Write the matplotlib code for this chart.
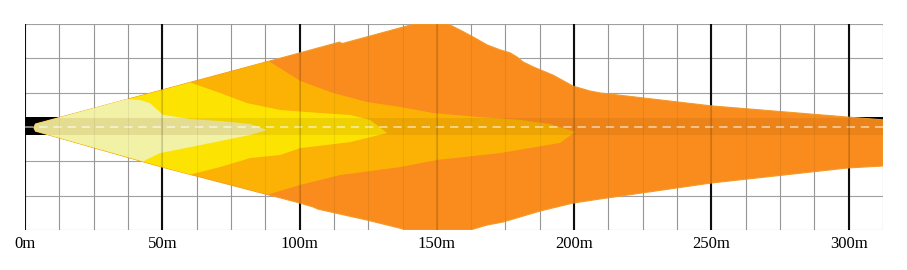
import numpy as np
import matplotlib
matplotlib.use('Agg')
from matplotlib import pyplot as plt

# Distance ticks [m]
tick_pos = [0, 50, 100, 150, 200, 250, 300]
tick_labels = ['0m', '50m', '100m', '150m', '200m', '250m', '300m']

# Beam tip (closest point to the lamp)
apex_x = [3.2]
apex_y = [-0.2]

# Outer beam contour, upper side (x [m], y [m])
edge_top_x = [3.8, 50.0, 100.2, 114.5, 115.6, 141.8, 154.1, 158.5, 163.2, 168.3, 173.0,
              176.7, 179.2, 181.4, 185.1, 192.3, 199.6, 205.8, 209.5, 249.9, 299.8, 312.5]
edge_top_y = [1.1, 13.5, 27.0, 30.9, 30.4, 37.5, 37.5, 35.3, 32.8, 29.9, 28.1,
              27.0, 25.5, 23.7, 21.9, 18.9, 14.9, 13.1, 12.4, 7.7, 3.6, 2.6]

# Outer beam contour, lower side
edge_bot_x = [3.8, 50.0, 100.2, 104.9, 106.7, 124.6, 139.2, 162.1, 168.3, 174.1,
              187.6, 199.6, 209.5, 249.9, 299.8, 312.5]
edge_bot_y = [-1.5, -14.6, -27.7, -29.1, -29.9, -33.9, -37.5, -37.5, -35.7, -34.6,
              -30.6, -27.7, -26.2, -20.4, -14.9, -14.2]

# Inner zone limits (from upper edge, round the tip, back to lower edge)
amber_x = [88.8, 100.2, 112.2, 124.6, 136.6, 148.6, 165.8, 180.3, 191.3, 200.4,
           194.9, 173.0, 150.1, 136.6, 114.8, 100.2, 88.5]
amber_y = [24.0, 16.8, 12.4, 9.1, 7.3, 5.1, 3.6, 2.6, 1.1, -1.8,
           -5.8, -9.5, -12.0, -14.6, -17.5, -21.1, -24.6]

yellow_x = [60.2, 71.0, 80.9, 92.9, 107.5, 118.4, 125.7, 131.9, 118.4, 100.2,
            92.9, 82.0, 71.0, 60.2]
yellow_y = [16.2, 12.4, 8.7, 6.2, 5.1, 4.4, 2.6, -2.2, -5.5, -7.7,
            -10.2, -11.3, -14.6, -17.3]

pale_x = [37.2, 41.9, 45.5, 50.3, 60.1, 71.0, 82.0, 88.2, 82.0, 63.8, 49.2, 43.0]
pale_y = [10.2, 9.8, 8.7, 4.4, 2.9, 2.2, 1.1, -1.1, -2.9, -6.6, -9.5, -12.5]

# Central strip
band_lo, band_hi = -2.9, 3.3
bar_lo, bar_hi = -2.9, 3.6

xmax = 312.5
ymax = 37.5


def zone(bx, by):
    # polygon = tip + upper edge up to the zone limit + limit + lower edge back
    x0, x1 = bx[0], bx[-1]
    tx = [x for x in edge_top_x if x < x0]
    ty = [y for x, y in zip(edge_top_x, edge_top_y) if x < x0]
    lx = [x for x in edge_bot_x if x < x1][::-1]
    ly = [y for x, y in zip(edge_bot_x, edge_bot_y) if x < x1][::-1]
    return apex_x + tx + list(bx) + lx, apex_y + ty + list(by) + ly


fig = plt.figure(figsize=(9.07, 2.70), dpi=100)
ax = fig.add_axes([25 / 907, 40 / 270, 858 / 907, 206 / 270])
ax.set_xlim(0, xmax)
ax.set_ylim(-ymax, ymax)

# Grid
minor = np.arange(12.5, xmax + 0.1, 12.5)
ax.vlines(minor, -ymax, ymax, color='#a0a0a0', lw=0.8, zorder=0)
ax.hlines(np.arange(-ymax, ymax + 0.1, 12.5), 0, xmax, color='#a0a0a0', lw=0.8, zorder=0)
ax.vlines(tick_pos, -ymax, ymax, color='#111111', lw=1.5, zorder=0.5)

# Black bar on the axis
ax.fill_between([0, xmax], bar_lo, bar_hi, color='black', lw=0, zorder=1)

# Beam zones
ox = apex_x + edge_top_x + edge_bot_x[::-1]
oy = apex_y + edge_top_y + edge_bot_y[::-1]
outer = ax.fill(ox, oy, color='#F98C1C', ec='#F39A2A', lw=0.8, zorder=2)[0]
ax.fill(*zone(amber_x, amber_y), color='#FBB204', lw=0, zorder=3)
ax.fill(*zone(yellow_x, yellow_y), color='#FDE302', lw=0, zorder=4)
ax.fill(*zone(pale_x, pale_y), color='#F1F2A6', lw=0, zorder=5)

# Darker central strip inside the beam
band = ax.fill_between([0, xmax], band_lo, band_hi, color='#8A4A00', alpha=0.12,
                       lw=0, zorder=6)
band.set_clip_path(outer)

# Dashed centre line
ax.plot([0, xmax], [0, 0], color='white', alpha=0.6, lw=1.2,
        ls=(0, (5, 3.5)), zorder=7)

# Grid lines faintly through the beam
ax.vlines(minor, -ymax, ymax, color='black', lw=0.8, alpha=0.06, zorder=8)
ax.vlines(tick_pos, -ymax, ymax, color='black', lw=1.5, alpha=0.12, zorder=8)

for s in ax.spines.values():
    s.set_visible(False)
ax.set_yticks([])
ax.set_xticks(tick_pos, tick_labels, family='Liberation Serif', fontsize=12)
ax.tick_params(axis='x', length=0, pad=4)

plt.savefig('out.png', dpi=100)
